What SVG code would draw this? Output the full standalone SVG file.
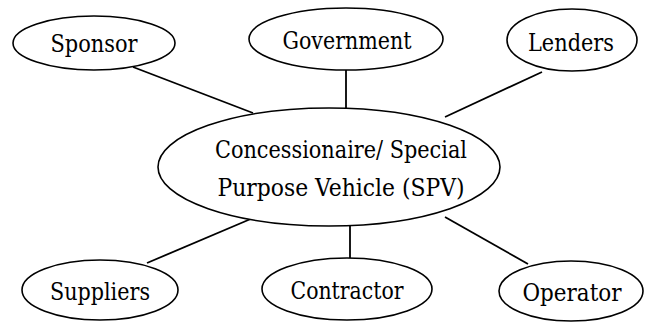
<svg xmlns="http://www.w3.org/2000/svg" width="648" height="322" viewBox="0 0 648 322">
<style>
ellipse.e{fill:#fff;stroke:#000;stroke-width:1.6}
text.t{font-family:'DejaVu Serif Condensed','DejaVu Serif',serif;font-size:25px;fill:#000;text-anchor:middle}
line.c{stroke:#000;stroke-width:1.8}
</style>
<rect width="648" height="322" fill="#fff"/>
<g id="connectors">
<line class="c" x1="133" y1="67" x2="253" y2="113"/>
<line class="c" x1="346" y1="70" x2="346" y2="109"/>
<line class="c" x1="542" y1="72" x2="445" y2="117"/>
<line class="c" x1="253" y1="218" x2="147" y2="263"/>
<line class="c" x1="350" y1="224" x2="350" y2="258"/>
<line class="c" x1="445" y1="217" x2="528" y2="264"/>
</g>
<g id="spv">
<ellipse class="e" cx="329" cy="167" rx="171" ry="59"/>
<text class="t" x="341" y="158" textLength="252" lengthAdjust="spacingAndGlyphs">Concessionaire/ Special</text>
<text class="t" x="341" y="196" textLength="247" lengthAdjust="spacingAndGlyphs">Purpose Vehicle (SPV)</text>
</g>
<g id="sponsor">
<ellipse class="e" cx="94" cy="43" rx="81" ry="27"/>
<text class="t" x="94" y="52" textLength="87" lengthAdjust="spacingAndGlyphs">Sponsor</text>
</g>
<g id="government">
<ellipse class="e" cx="346" cy="39" rx="97" ry="31"/>
<text class="t" x="347" y="49" textLength="129" lengthAdjust="spacingAndGlyphs">Government</text>
</g>
<g id="lenders">
<ellipse class="e" cx="572" cy="40" rx="65" ry="31"/>
<text class="t" x="571" y="51" textLength="86" lengthAdjust="spacingAndGlyphs">Lenders</text>
</g>
<g id="suppliers">
<ellipse class="e" cx="100" cy="290" rx="78" ry="30"/>
<text class="t" x="100" y="300" textLength="100" lengthAdjust="spacingAndGlyphs">Suppliers</text>
</g>
<g id="contractor">
<ellipse class="e" cx="347" cy="289" rx="85" ry="31"/>
<text class="t" x="347" y="299" textLength="113" lengthAdjust="spacingAndGlyphs">Contractor</text>
</g>
<g id="operator">
<ellipse class="e" cx="571" cy="291" rx="72" ry="30"/>
<text class="t" x="572" y="301" textLength="99" lengthAdjust="spacingAndGlyphs">Operator</text>
</g>
</svg>
